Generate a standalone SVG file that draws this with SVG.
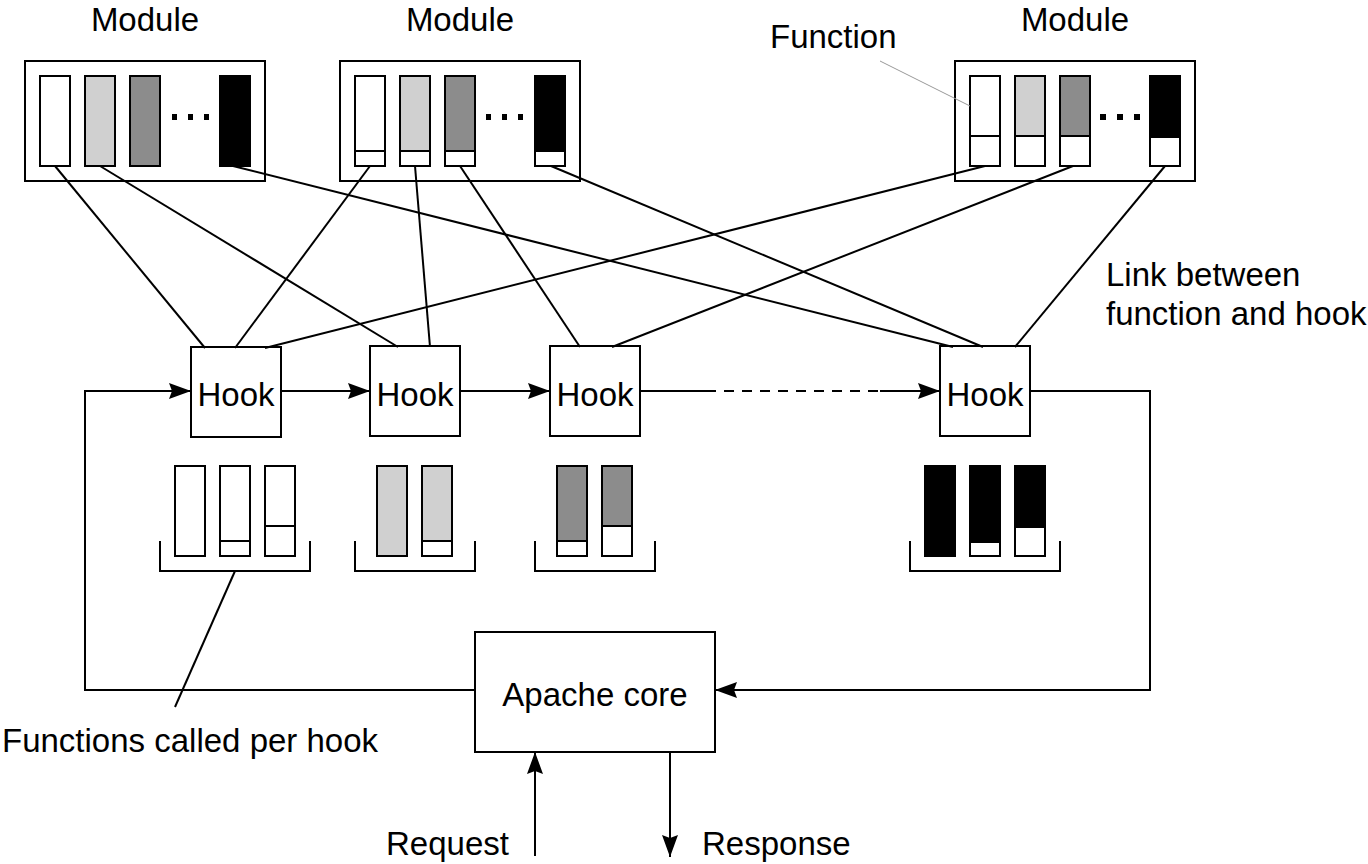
<svg xmlns="http://www.w3.org/2000/svg" width="1368" height="864" viewBox="0 0 1368 864">
<style>
text{font-family:"Liberation Sans",Arial,sans-serif;font-size:33px;fill:#000}
.box{fill:#fff;stroke:#000;stroke-width:2}
.w{fill:#fff;stroke:#000;stroke-width:2}
.lg{fill:#d0d0d0;stroke:#000;stroke-width:2}
.dg{fill:#8c8c8c;stroke:#000;stroke-width:2}
.bk{fill:#000;stroke:#000;stroke-width:2}
.ln{fill:none;stroke:#000;stroke-width:2}
.dot{fill:#000}
</style>
<defs>
<marker id="ah" markerUnits="userSpaceOnUse" markerWidth="24" markerHeight="18" refX="22" refY="8" orient="auto">
<path d="M0,0 L22,8 L0,16 L3,8 z" fill="#000"/>
</marker>
</defs>
<rect width="1368" height="864" fill="#fff"/>

<g id="module1">
<text x="145" y="31" text-anchor="middle">Module</text>
<rect class="box" x="25" y="61" width="240" height="120"/>
<rect class="w" x="40" y="76" width="30" height="90"/>
<rect class="lg" x="85" y="76" width="30" height="90"/>
<rect class="dg" x="130" y="76" width="30" height="90"/>
<rect class="bk" x="220" y="76" width="30" height="90"/>
<rect class="dot" x="172" y="114" width="5" height="6"/>
<rect class="dot" x="188" y="114" width="5" height="6"/>
<rect class="dot" x="204" y="114" width="5" height="6"/>
</g>

<g id="module2">
<text x="460" y="31" text-anchor="middle">Module</text>
<rect class="box" x="340" y="61" width="240" height="120"/>
<rect class="w" x="355" y="76" width="30" height="75"/>
<rect class="w" x="355" y="151" width="30" height="15"/>
<rect class="lg" x="400" y="76" width="30" height="75"/>
<rect class="w" x="400" y="151" width="30" height="15"/>
<rect class="dg" x="445" y="76" width="30" height="75"/>
<rect class="w" x="445" y="151" width="30" height="15"/>
<rect class="bk" x="535" y="76" width="30" height="75"/>
<rect class="w" x="535" y="151" width="30" height="15"/>
<rect class="dot" x="486" y="114" width="5" height="6"/>
<rect class="dot" x="502" y="114" width="5" height="6"/>
<rect class="dot" x="518" y="114" width="5" height="6"/>
</g>

<g id="module3">
<text x="1075" y="31" text-anchor="middle">Module</text>
<text x="770" y="48">Function</text>
<rect class="box" x="955" y="61" width="240" height="120"/>
<rect class="w" x="970" y="76" width="30" height="60"/>
<rect class="w" x="970" y="136" width="30" height="30"/>
<rect class="lg" x="1015" y="76" width="30" height="60"/>
<rect class="w" x="1015" y="136" width="30" height="30"/>
<rect class="dg" x="1060" y="76" width="30" height="60"/>
<rect class="w" x="1060" y="136" width="30" height="30"/>
<rect class="bk" x="1150" y="76" width="30" height="61"/>
<rect class="w" x="1150" y="137" width="30" height="29"/>
<rect class="dot" x="1100" y="114" width="6" height="6"/>
<rect class="dot" x="1117" y="114" width="6" height="6"/>
<rect class="dot" x="1134" y="114" width="6" height="6"/>
</g>

<g id="hook1">
<rect class="box" x="191" y="347" width="90" height="90"/>
<text x="236" y="406" text-anchor="middle">Hook</text>
</g>
<g id="hook2">
<rect class="box" x="370" y="346" width="90" height="90"/>
<text x="415" y="406" text-anchor="middle">Hook</text>
</g>
<g id="hook3">
<rect class="box" x="550" y="346" width="90" height="90"/>
<text x="595" y="406" text-anchor="middle">Hook</text>
</g>
<g id="hook4">
<rect class="box" x="940" y="346" width="90" height="90"/>
<text x="985" y="406" text-anchor="middle">Hook</text>
</g>

<g id="functions1">
<rect class="w" x="175" y="466" width="30" height="90"/>
<rect class="w" x="220" y="466" width="30" height="75"/>
<rect class="w" x="220" y="541" width="30" height="15"/>
<rect class="w" x="265" y="466" width="30" height="60"/>
<rect class="w" x="265" y="526" width="30" height="30"/>
<path class="ln" d="M160,541 V571 H310 V541"/>
</g>
<g id="functions2">
<rect class="lg" x="377" y="466" width="30" height="90"/>
<rect class="lg" x="422" y="466" width="30" height="75"/>
<rect class="w" x="422" y="541" width="30" height="15"/>
<path class="ln" d="M355,541 V571 H475 V541"/>
</g>
<g id="functions3">
<rect class="dg" x="557" y="466" width="30" height="75"/>
<rect class="w" x="557" y="541" width="30" height="15"/>
<rect class="dg" x="602" y="466" width="30" height="60"/>
<rect class="w" x="602" y="526" width="30" height="30"/>
<path class="ln" d="M535,541 V571 H655 V541"/>
</g>
<g id="functions4">
<rect class="bk" x="925" y="466" width="30" height="90"/>
<rect class="bk" x="970" y="466" width="30" height="76"/>
<rect class="w" x="970" y="542" width="30" height="14"/>
<rect class="bk" x="1015" y="466" width="30" height="61"/>
<rect class="w" x="1015" y="527" width="30" height="29"/>
<path class="ln" d="M910,541 V571 H1060 V541"/>
</g>

<g id="apache-core">
<rect class="box" x="475" y="632" width="240" height="120"/>
<text x="595" y="706" text-anchor="middle">Apache core</text>
</g>

<g id="connectors">
<line class="ln" x1="55" y1="166" x2="205" y2="348"/>
<line class="ln" x1="100" y1="166" x2="398" y2="347"/>
<line class="ln" x1="233" y1="166" x2="953" y2="347"/>
<line class="ln" x1="370" y1="166" x2="235" y2="348"/>
<line class="ln" x1="415" y1="166" x2="430" y2="347"/>
<line class="ln" x1="460" y1="166" x2="580" y2="347"/>
<line class="ln" x1="551" y1="166" x2="983" y2="347"/>
<line class="ln" x1="985" y1="166" x2="265" y2="348"/>
<line class="ln" x1="1073" y1="166" x2="612" y2="347"/>
<line class="ln" x1="1165" y1="166" x2="1015" y2="347"/>
<path class="ln" d="M475,690 H85 V391 H191" marker-end="url(#ah)"/>
<line class="ln" x1="281" y1="391" x2="370" y2="391" marker-end="url(#ah)"/>
<line class="ln" x1="460" y1="391" x2="550" y2="391" marker-end="url(#ah)"/>
<line class="ln" x1="640" y1="391" x2="706" y2="391"/>
<line class="ln" x1="706" y1="391" x2="880" y2="391" stroke-dasharray="10,8"/>
<line class="ln" x1="880" y1="391" x2="940" y2="391" marker-end="url(#ah)"/>
<path class="ln" d="M1030,391 H1150 V690 H715" marker-end="url(#ah)"/>
<line class="ln" x1="535" y1="856" x2="535" y2="752" marker-end="url(#ah)"/>
<line class="ln" x1="670" y1="752" x2="670" y2="857" marker-end="url(#ah)"/>
<line x1="880" y1="61" x2="970" y2="106" stroke="#999" stroke-width="1"/>
<line class="ln" x1="235" y1="571" x2="175" y2="707"/>
</g>

<g id="labels">
<text x="1106" y="286">Link between</text>
<text x="1106" y="325">function and hook</text>
<text x="2" y="752">Functions called per hook</text>
<text x="386" y="855">Request</text>
<text x="702" y="855">Response</text>
</g>
</svg>
